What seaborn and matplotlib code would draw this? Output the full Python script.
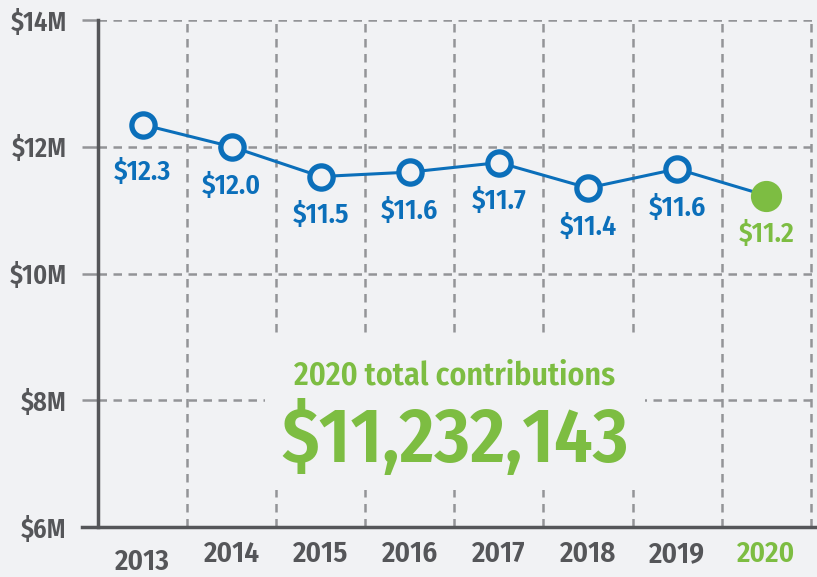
import seaborn as sns
import pandas as pd
import numpy as np
import matplotlib.pyplot as plt
from matplotlib.patches import Rectangle
from matplotlib import font_manager

sns.set_style("ticks")

years = ["2013", "2014", "2015", "2016", "2017", "2018", "2019", "2020"]
contrib = [12.35, 12.0, 11.53, 11.6, 11.75, 11.35, 11.65, 11.23]
labels = ["$12.3", "$12.0", "$11.5", "$11.6", "$11.7", "$11.4", "$11.6", "$11.2"]
y_ticks = [6, 8, 10, 12, 14]
y_labels = ["$6M", "$8M", "$10M", "$12M", "$14M"]
total_text = "$11,232,143"

# condensed bold face, close to the original's look
wanted = ["FiraSansCondensed-SemiBold.ttf", "FiraSansCondensed-Bold.ttf", "AsapCondensed-SemiBold.ttf",
          "AsapCondensed-Bold.ttf", "PTSansNarrow-Bold.ttf", "RobotoCondensed-Bold.ttf",
          "DejaVuSansCondensed-Bold.ttf"]
files = {f.fname.split('/')[-1]: f.fname for f in font_manager.fontManager.ttflist}
fpath = next((files[w] for w in wanted if w in files), None)
fp = font_manager.FontProperties(fname=fpath) if fpath else font_manager.FontProperties(weight="bold")

bg = "#f1f2f4"
blue = "#0b6fba"
green = "#7dbd42"
gray = "#555659"
grid = "#939497"

df = pd.DataFrame({"year": years, "x": np.arange(len(years)), "value": contrib})

fig = plt.figure(figsize=(8.17, 5.77), dpi=100, facecolor=bg)
ax = fig.add_axes([98 / 817, 50 / 577, 719 / 817, 507 / 577])
ax.set_facecolor(bg)

sns.lineplot(data=df, x="x", y="value", color=blue, linewidth=2.2, ax=ax, zorder=3)
past = df.iloc[:-1]
ax.scatter(past["x"], past["value"], s=280, facecolor=bg, edgecolor=blue, linewidth=3.8, zorder=4)
last = df.iloc[-1:]
ax.scatter(last["x"], last["value"], s=460, color=green, zorder=4)

ax.set_xlim(-0.5, -0.5 + 719 / 89.1)
ax.set_ylim(6, 14)

dash = (0, (3.4, 2.6))
for yv in y_ticks[1:]:
    ax.axhline(yv, color=grid, linestyle=dash, linewidth=1.8, zorder=1)
for xv in np.arange(0.5, len(years), 1):
    ax.axvline(xv, color=grid, linestyle=dash, linewidth=1.8, zorder=1)

# blank area behind the headline
ax.add_patch(Rectangle(((265 - 98) / 719, (527 - 490) / 507), 380 / 719, 152 / 507,
                       transform=ax.transAxes, facecolor=bg, edgecolor="none", zorder=2))

for i, (v, lab) in enumerate(zip(contrib, labels)):
    c = green if i == len(years) - 1 else blue
    off = -34 if i == 0 else -28
    ax.annotate(lab, (i, v), xytext=(0, off), textcoords="offset points", ha="center", va="center",
                fontproperties=fp, fontsize=20, color=c, zorder=5)

ax.set_yticks(y_ticks)
ax.set_yticklabels(y_labels, fontproperties=fp, fontsize=19, color=gray)
ax.set_xticks(df["x"])
ax.set_xticklabels(years, fontproperties=fp, fontsize=21, color=gray)
ax.get_xticklabels()[-1].set_color(green)
ax.tick_params(axis="y", length=11.5, width=1.8, color=grid, pad=11)
ax.tick_params(axis="x", length=0, pad=9)
ax.xaxis.get_major_ticks()[0].set_pad(15)
ax.set_xlabel("")
ax.set_ylabel("")

sns.despine(ax=ax, top=True, right=True)
for side in ["left", "bottom"]:
    ax.spines[side].set_color(gray)
    ax.spines[side].set_linewidth(2.5)
ax.spines["bottom"].set_bounds(-0.5 - 16 / 89.1, ax.get_xlim()[1])

ax.text((455 - 98) / 719, (527 - 376) / 507, "2020 total contributions", transform=ax.transAxes,
        ha="center", va="center", fontproperties=fp, fontsize=23, color=green, zorder=5)
ax.text((455 - 98) / 719, (527 - 440) / 507, total_text, transform=ax.transAxes,
        ha="center", va="center", fontproperties=fp, fontsize=55, color=green, zorder=5)

fig.savefig("out.png", dpi=100, facecolor=bg)
